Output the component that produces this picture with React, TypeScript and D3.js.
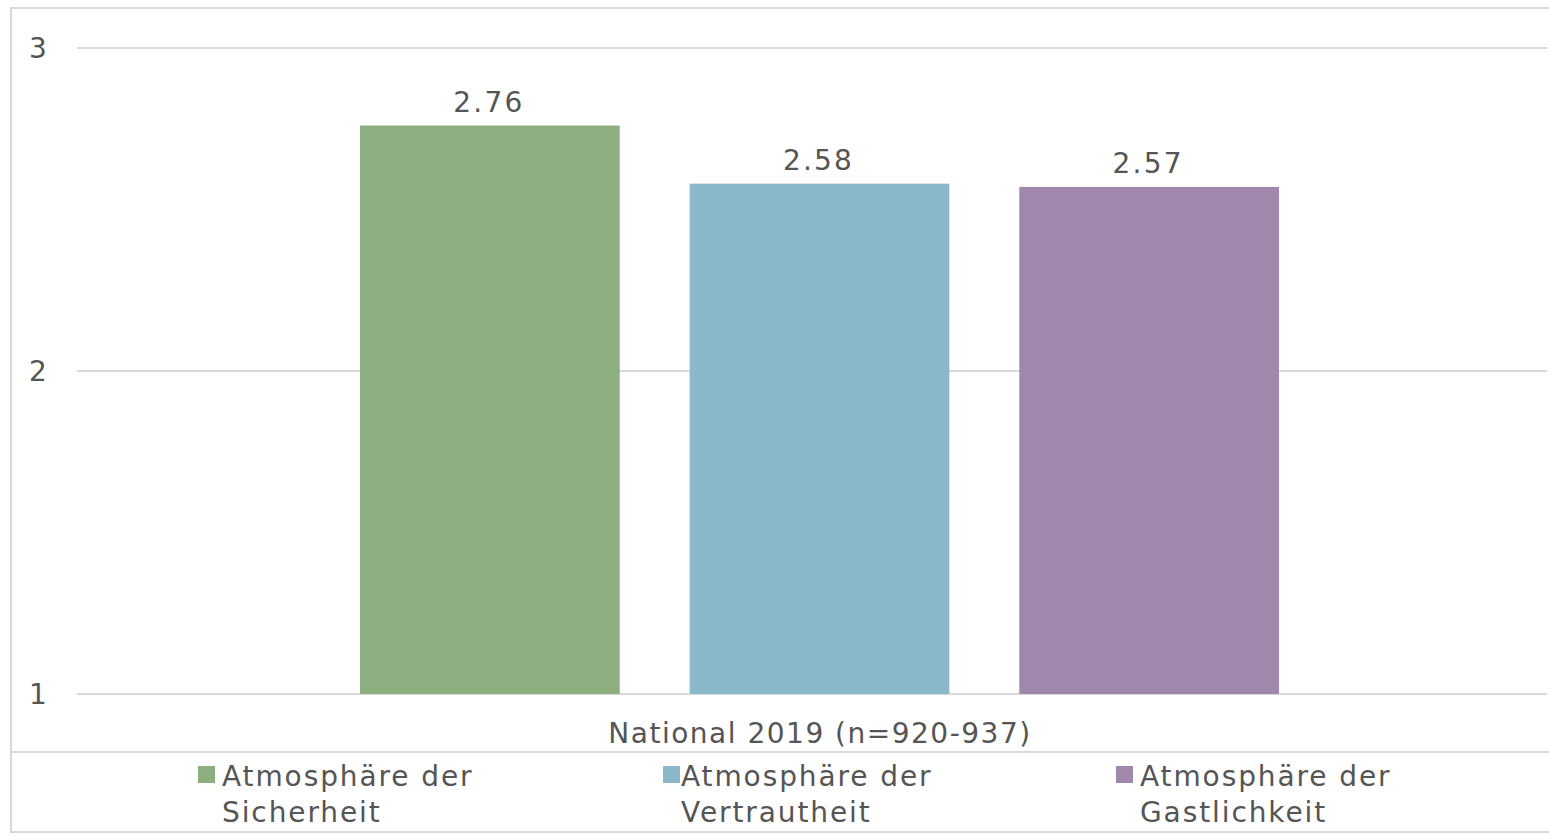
import React from "react";
import * as d3 from "d3";

const categories = ["National 2019 (n=920-937)"];
const seriesNames = [
  ["Atmosphäre der", "Sicherheit"],
  ["Atmosphäre der", "Vertrautheit"],
  ["Atmosphäre der", "Gastlichkeit"],
];
const seriesValues = [2.76, 2.58, 2.57];
const seriesColors = ["#8DAE7F", "#89B8C8", "#A088AC"];
const yTicks = [1, 2, 3];

const W = 1549;
const H = 835;
const FONT = "'DejaVu Sans', Verdana, sans-serif";
const TEXT = "#555555";
const GRID = "#d9d9d9";

export default function App() {
  const plotLeft = 77;
  const plotRight = 1547;
  const y = d3.scaleLinear().domain([1, 3]).range([694, 48]);
  const x1 = d3
    .scaleBand()
    .domain(seriesValues.map((_, i) => String(i)))
    .range([360, 1279])
    .paddingInner(70 / 330);

  const legendX = [198, 663, 1116];
  const legendTextX = [222, 681, 1140];

  return (
    <svg
      width={W}
      height={H}
      style={{ position: "absolute", left: 0, top: 0, background: "#fff" }}
      fontFamily={FONT}
    >
      {/* outer frame */}
      <rect x={11} y={8} width={W - 11 + 5} height={832 - 8} fill="none" stroke={GRID} strokeWidth={2} />
      <line x1={11} x2={W} y1={752} y2={752} stroke={GRID} strokeWidth={2} />

      {/* gridlines */}
      {yTicks.map((t) => (
        <g key={t}>
          <line x1={plotLeft} x2={plotRight} y1={y(t)} y2={y(t)} stroke={GRID} strokeWidth={2} />
          <text x={38} y={y(t)} dy="0.35em" textAnchor="middle" fontSize={28} fill={TEXT}>
            {t}
          </text>
        </g>
      ))}

      {/* bars */}
      {seriesValues.map((v, i) => {
        const bx = x1(String(i))!;
        return (
          <g key={i}>
            <rect x={bx} y={y(v)} width={x1.bandwidth()} height={y(1) - y(v)} fill={seriesColors[i]} />
            <text
              x={bx + x1.bandwidth() / 2 - 1}
              y={y(v) - 14}
              textAnchor="middle"
              fontSize={28}
              letterSpacing={2.2}
              fill={TEXT}
            >
              {v.toFixed(2)}
            </text>
          </g>
        );
      })}

      {/* category label */}
      {categories.map((c) => (
        <text key={c} x={820} y={743} textAnchor="middle" fontSize={28} letterSpacing={1.5} fill={TEXT}>
          {c}
        </text>
      ))}

      {/* legend */}
      {seriesNames.map((lines, i) => (
        <g key={i}>
          <rect x={legendX[i]} y={766} width={17} height={17} fill={seriesColors[i]} />
          {lines.map((l, j) => (
            <text key={j} x={legendTextX[i]} y={786 + j * 36} fontSize={28} letterSpacing={1.9} fill={TEXT}>
              {l}
            </text>
          ))}
        </g>
      ))}
    </svg>
  );
}
